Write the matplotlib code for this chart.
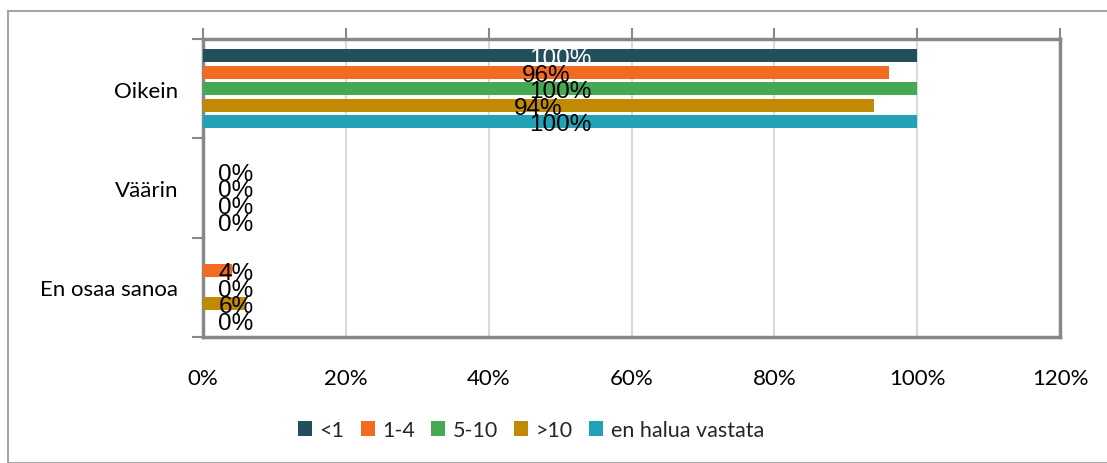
import numpy as np
import matplotlib
matplotlib.use('Agg')
import matplotlib.pyplot as plt
from matplotlib.patches import Rectangle

categories = ['Oikein', 'Väärin', 'En osaa sanoa']
series = ['<1', '1-4', '5-10', '>10', 'en halua vastata']
colors = ['#234e5c', '#f26b23', '#45a853', '#c08a03', '#22a2b7']
# values in percent, None = no value (no label shown)
v_lt1 = [100, None, None]
v_1_4 = [96, 0, 4]
v_5_10 = [100, 0, 0]
v_gt10 = [94, 0, 6]
v_noans = [100, 0, 0]
values = [v_lt1, v_1_4, v_5_10, v_gt10, v_noans]
label_colors = ['white', 'black', 'black', 'black', 'black']
xticks = [0, 20, 40, 60, 80, 100, 120]

W, H = 1107, 464
fig = plt.figure(figsize=(W / 100, H / 100), dpi=100)
fig.patches.append(Rectangle((8 / W, 0), 1.2, (H - 12) / H, transform=fig.transFigure,
                             fill=False, edgecolor='#a6a6a6', linewidth=1.5))
ax = fig.add_axes([203 / W, 1 - 338 / H, (1060 - 203) / W, (338 - 40) / H])

step = 0.167
bar_h = 0.13
for k, (name, vals) in enumerate(zip(series, values)):
    for i, v in enumerate(vals):
        if v is None:
            continue
        y = i + (k - 2) * step
        ax.barh(y, v, height=bar_h, color=colors[k], zorder=3)
        lx = max(v / 2, 4.6)
        ax.text(lx, y + 0.025, f'{v}%', ha='center', va='center', fontsize=17.5,
                color=label_colors[k], family='Liberation Sans', zorder=4)

for k, name in enumerate(series):
    ax.barh(np.nan, 0, color=colors[k], label=name)

ax.set_xlim(0, 120)
ax.set_ylim(2.5, -0.5)
ax.set_xticks(xticks)
ax.set_xticklabels([f'{t}%' for t in xticks], fontsize=16, family='Lato')
ax.tick_params(axis='x', top=True, bottom=False, labelbottom=True, direction='out',
               length=8, width=1.5, color='#888888', pad=14)
ax.set_yticks([0, 1, 2])
ax.set_yticklabels(categories, fontsize=16, family='Lato')
ax.set_yticks([-0.5, 0.5, 1.5, 2.5], minor=True)
ax.tick_params(axis='y', which='major', length=0, pad=18)
ax.tick_params(axis='y', which='minor', length=8, width=1.5, color='#888888')
ax.grid(axis='x', color='#d9d9d9', linewidth=1.5, zorder=0)
for s in ax.spines.values():
    s.set_color('#888888')
    s.set_linewidth(2.5)

ax.legend(loc='center', bbox_to_anchor=(531 / W, 1 - 431 / H), bbox_transform=fig.transFigure,
          ncol=5, frameon=False, prop={'family': 'Lato', 'size': 15.5},
          handlelength=0.65, handleheight=0.65, handletextpad=0.35, columnspacing=0.75,
          labelcolor='#262626')

fig.savefig('out.png', dpi=100)
